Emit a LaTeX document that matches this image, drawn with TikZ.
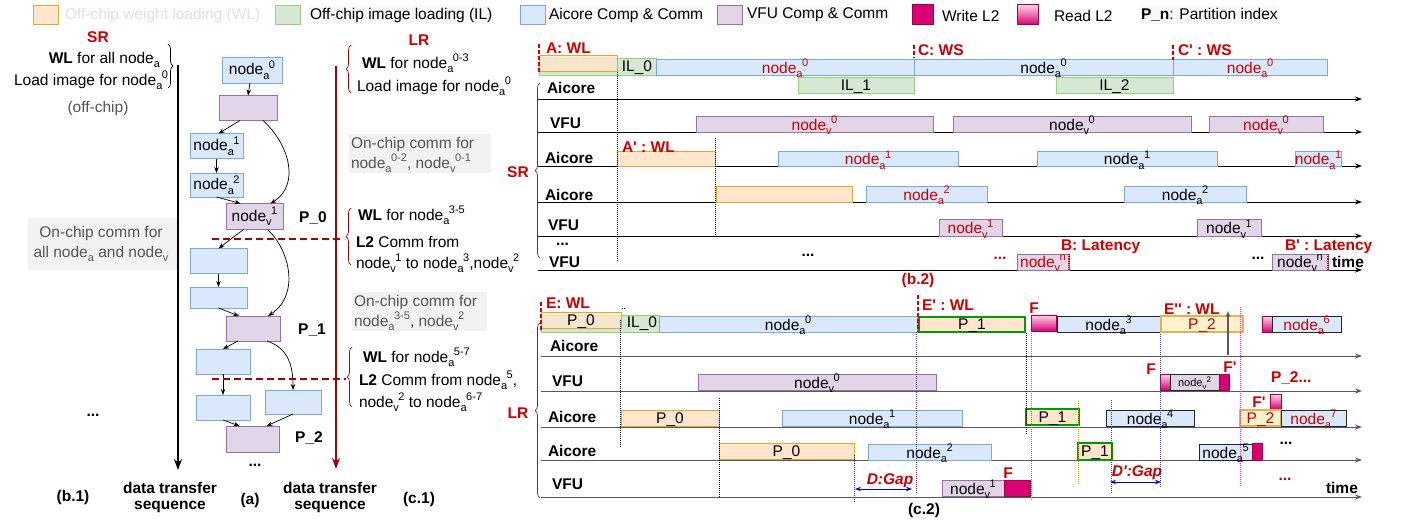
\documentclass[tikz,border=0pt]{standalone}
\usepackage{fontspec}
\setmainfont{Liberation Sans}
\usetikzlibrary{arrows.meta,decorations.pathreplacing,calc}

\definecolor{cBlueF}{HTML}{DAE8FC}
\definecolor{cBlueD}{HTML}{7EA6E0}
\definecolor{cPurF}{HTML}{E1D5E7}
\definecolor{cPurD}{HTML}{9673A6}
\definecolor{cGrnF}{HTML}{D5E8D4}
\definecolor{cGrnD}{HTML}{97D077}
\definecolor{cOrF}{HTML}{FFE6CC}
\definecolor{cOrD}{HTML}{E3A833}
\definecolor{cMag}{HTML}{D80073}
\definecolor{cMagD}{HTML}{A50040}
\definecolor{cPink}{HTML}{FFD6E8}
\definecolor{cPone}{HTML}{009900}
\definecolor{cYelF}{HTML}{FFF2CC}
\definecolor{cYelD}{HTML}{D6B656}
\definecolor{tred}{HTML}{CC0000}
\definecolor{cDR}{HTML}{A50000}
\definecolor{cGrayTx}{HTML}{555555}
\definecolor{cGrayBg}{HTML}{F2F2F2}
\definecolor{cLegBg}{HTML}{F8F8FA}
\definecolor{cWL}{HTML}{D5E8D4}
\definecolor{cGap}{HTML}{0000CC}
\definecolor{cDotPk}{HTML}{FF3399}
\definecolor{cDotOr}{HTML}{E6A100}
\definecolor{cDotBl}{HTML}{3333CC}

\newcommand\fs{\fontsize{15.5}{18}\selectfont}
\newcommand\fsmall{\fontsize{11}{13}\selectfont}
\newcommand\scs{\fontsize{11}{11}\selectfont}
\newcommand\scst{\fontsize{8}{8}\selectfont}
% subscript / superscript pieces
\newcommand\sbs[1]{\raisebox{-4.5pt}{\scs #1}}
\newcommand\sps[1]{\raisebox{6.5pt}{\scs #1}}
% node name with subscript and superscript
\newcommand\nd[2]{node\sbs{#1}\kern-0.5pt\sps{#2}}
\newcommand\nds[1]{node\sbs{#1}}
\newcommand\ndt[2]{node\raisebox{-3pt}{\scst #1}\raisebox{4pt}{\scst #2}}
\newcommand\rd[1]{\textcolor{tred}{#1}}
\newcommand\ap{\textquotesingle}
% timeline bar: style, x1, x2, y1, y2, name, text
\newcommand\tbx[7]{%
  \node[tbar,#1,minimum width={(#3-#2)*1pt},minimum height={(#5-#4)*1pt}] (#6) at ({(#2+#3)/2},{(#4+#5)/2}) {};
  \node[txt] (#6t) at ([yshift=-1.5pt]#6.center) {#7};}

\begin{document}
\begin{tikzpicture}[x=1pt,y=-1pt,
  txt/.style={inner sep=0pt,outer sep=0pt,font=\fs},
  btxt/.style={txt,font=\fs\bfseries},
  rtxt/.style={txt,font=\fs\bfseries,text=tred},
  gtxt/.style={txt,text=cGrayTx},
  legtxt/.style={txt,anchor=west,fill=cLegBg,inner xsep=1pt,inner ysep=2pt},
  legbox/.style={tbar,minimum width=25pt,minimum height=19pt},
  tbar/.style={rectangle,inner sep=0pt,outer sep=0pt,draw},
  sBlue/.style={fill=cBlueF,draw=cBlueD,line width=0.9pt},
  sPur/.style={fill=cPurF,draw=cPurD,line width=0.9pt},
  sGrn/.style={fill=cGrnF,draw=cGrnD,line width=0.9pt},
  sOr/.style={fill=cOrF,draw=cOrD,line width=0.9pt},
  sWr/.style={fill=cMag,draw=cMagD,line width=0.6pt},
  sRd/.style={top color=cPink,bottom color=cMag,draw=cMagD,line width=0.6pt},
  sBk/.style={fill=cBlueF,draw=black!85,line width=0.9pt},
  sPone/.style={fill=cOrF,draw=cPone,line width=2.2pt},
  sPtwo/.style={fill=cYelF,draw=cYelD,line width=2.2pt},
  gnode/.style={tbar,font=\fs,inner sep=0pt},
  garr/.style={-{Stealth[length=6pt,width=4.5pt]},line width=0.7pt},
  bigarr/.style={-{Stealth[length=11pt,width=8pt]},line width=1.8pt},
  axis/.style={-{Stealth[length=7pt,width=5pt]},line width=0.9pt},
  axisg/.style={axis,draw=black!65},
  redmark/.style={draw=tred,line width=2pt,dash pattern=on 4pt off 2pt},
  cutline/.style={draw=cDR,line width=1.5pt,dash pattern=on 7pt off 4pt},
  brc/.style={decorate,decoration={brace,amplitude=5pt},line width=0.7pt},
  dotk/.style={densely dotted,line width=1pt,draw=black},
  dotb/.style={densely dotted,line width=1pt,draw=cDotBl},
  dotp/.style={densely dotted,line width=1pt,draw=cDotPk},
  doto/.style={densely dotted,line width=1pt,draw=cDotOr},
  gaparr/.style={{Stealth[length=6pt,width=4.5pt]}-{Stealth[length=6pt,width=4.5pt]},line width=1pt,draw=cGap},
  graybox/.style={rectangle,fill=cGrayBg,inner sep=0pt}
]
\useasboundingbox (0,0) rectangle (1402,523);

% ---------------- legend ----------------
\node[legbox,sOr] (lg1) at (45.5,14.5) {};
\node[txt,anchor=west,text=cWL] (lg1t) at (65,15) {Off-chip weight loading (WL)};
\node[legbox,sGrn] (lg2) at (288,14.5) {};
\node[legtxt] (lg2t) at (309,15) {Off-chip image loading (IL)};
\node[legbox,sBlue] (lg3) at (533,14.5) {};
\node[legtxt] (lg3t) at (548,15) {Aicore Comp \& Comm};
\node[legbox,sPur] (lg4) at (730,14.5) {};
\node[legtxt] (lg4t) at (746,15) {VFU Comp \& Comm};
\node[legbox,sWr,minimum width=21pt,minimum height=20pt] (lg5) at (922.5,14.5) {};
\node[txt,anchor=west] (lg5t) at (942,16) {Write L2};
\node[legbox,sRd,minimum width=21pt,minimum height=20pt] (lg6) at (1027.5,14.5) {};
\node[txt,anchor=west] (lg6t) at (1054,16) {Read L2};
\node[legtxt] (lg7t) at (1140,15) {\textbf{P\_n}: Partition index};

% ---------------- (b.1) ----------------
\node[rtxt] (srt) at (98,37) {SR};
\node[txt,anchor=base east] (wlall) at (160,63) {\textbf{WL} for all \nds{a}};
\node[txt,anchor=base east] (ldall) at (168,85) {Load image for \nd{a}{0}};
\draw[brc] (168,44) -- (168,88);
\node[gtxt] (offc) at (98,108) {(off-chip)};
\node[graybox,minimum width=149pt,minimum height=52pt] (ocb) at (102.5,244) {};
\node[gtxt] (ocb1) at (101,233) {On-chip comm for};
\node[gtxt] (ocb2) at (101,254) {all \nds{a} and \nds{v}};
\coordinate (sra) at (178,65);
\coordinate (srb) at (178,470);
\draw[bigarr] (sra) -- (srb);
\node[btxt] (dots1) at (93,415) {...};
\node[btxt] (b1t) at (73,497) {(b.1)};
\node[btxt] (dts1) at (170,488) {data transfer};
\node[btxt] (dts2) at (170,507) {sequence};

% ---------------- (a) graph ----------------
\node[gnode,sBlue,minimum width=60pt,minimum height=26pt] (na0) at (252,70) {\nd{a}{0}};
\node[gnode,sPur,minimum width=58pt,minimum height=25pt] (pv0) at (248,108) {};
\node[gnode,sBlue,minimum width=53pt,minimum height=25pt] (na1) at (216.5,146) {\nd{a}{1}};
\node[gnode,sBlue,minimum width=53pt,minimum height=24pt] (na2) at (216.5,185) {\nd{a}{2}};
\node[gnode,sPur,minimum width=57pt,minimum height=26pt] (nv1) at (254.5,216.5) {\nd{v}{1}};
\node[gnode,sBlue,minimum width=57pt,minimum height=25pt] (b4) at (218.5,261) {};
\node[gnode,sBlue,minimum width=57pt,minimum height=21pt] (b5) at (218.5,297.5) {};
\node[gnode,sPur,minimum width=54pt,minimum height=25pt] (pv1) at (253,328.5) {};
\node[gnode,sBlue,minimum width=54pt,minimum height=25pt] (b6) at (223,361.5) {};
\node[gnode,sBlue,minimum width=54pt,minimum height=25pt] (b7) at (223,407.5) {};
\node[gnode,sBlue,minimum width=56pt,minimum height=24pt] (b8) at (293,402) {};
\node[gnode,sPur,minimum width=53pt,minimum height=26pt] (pv2) at (252.5,439) {};
\node[btxt] (p0l) at (313,218) {P\_0};
\node[btxt] (p1l) at (312,330) {P\_1};
\node[btxt] (p2l) at (309,438) {P\_2};
\node[btxt] (dots2) at (255,465) {...};
\node[btxt] (at) at (250,500) {(a)};

\draw[garr] ([xshift=-2pt]na0.south) -- (pv0.north);
\draw[garr] ([xshift=-8pt]pv0.south) -- ([xshift=2pt]na1.north);
\draw[garr] ([xshift=15pt]pv0.south) .. controls (290,145) and (300,185) .. ([xshift=16pt]nv1.north);
\draw[garr] (na1.south) -- (na2.north);
\draw[garr] (na2.south) -- ([xshift=-14pt]nv1.north);
\draw[garr] ([xshift=-11pt]nv1.south) -- (b4.north);
\draw[garr] ([xshift=13pt]nv1.south) .. controls (290,250) and (300,295) .. ([xshift=15pt]pv1.north);
\draw[garr] (b4.south) -- (b5.north);
\draw[garr] (b5.south) -- ([xshift=-14pt]pv1.north);
\draw[garr] ([xshift=-15pt]pv1.south) -- (b6.north);
\draw[garr] ([xshift=14pt]pv1.south) .. controls (288,348) and (293,365) .. (b8.north);
\draw[garr] (b6.south) -- (b7.north);
\draw[garr] (b7.south) -- ([xshift=-13pt]pv2.north);
\draw[garr] (b8.south) -- ([xshift=14pt]pv2.north);

\coordinate (cut1a) at (212,239);
\coordinate (cut1b) at (344,239);
\coordinate (cut2a) at (212,379);
\coordinate (cut2b) at (346,379);
\draw[cutline] (cut1a) -- (cut1b);
\draw[cutline] (cut2a) -- (cut2b);

% ---------------- (c.1) ----------------
\node[rtxt] (lrt) at (419,40) {LR};
\coordinate (lra) at (336,66);
\coordinate (lrb) at (336,469);
\draw[bigarr,draw=cDR] (lra) -- (lrb);
\draw[brc,draw=cDR] (351,93) -- (351,45);
\draw[brc,draw=cDR] (351,265) -- (351,208);
\draw[brc,draw=cDR] (352,407) -- (352,347);
\node[txt,anchor=base west] (c1a) at (362,68) {\textbf{WL} for \nd{a}{0-3}};
\node[txt,anchor=base west] (c1b) at (357,91) {Load image for \nd{a}{0}};
\node[graybox,anchor=north west,minimum width=142pt,minimum height=39pt] (oc1) at (349,134) {};
\node[gtxt,anchor=base west] (oc1a) at (351,148) {On-chip comm for};
\node[gtxt,anchor=base west] (oc1b) at (351,168) {\nd{a}{0-2}, \nd{v}{0-1}};
\node[txt,anchor=base west] (c1c) at (358,220) {\textbf{WL} for \nd{a}{3-5}};
\node[txt,anchor=base west] (c1d) at (356,247) {\textbf{L2} Comm from};
\node[txt,anchor=base west] (c1e) at (356,268) {\nd{v}{1} to \nd{a}{3},\nd{v}{2}};
\node[graybox,anchor=north west,minimum width=135pt,minimum height=39pt] (oc2) at (352,292) {};
\node[gtxt,anchor=base west] (oc2a) at (354,306) {On-chip comm for};
\node[gtxt,anchor=base west] (oc2b) at (354,326) {\nd{a}{3-5}, \nd{v}{2}};
\node[txt,anchor=base west] (c1f) at (363,362) {\textbf{WL} for \nd{a}{5-7}};
\node[txt,anchor=base west] (c1g) at (359,385) {\textbf{L2} Comm from \nd{a}{5},};
\node[txt,anchor=base west] (c1h) at (359,407) {\nd{v}{2} to \nd{a}{6-7}};
\node[btxt] (dts3) at (330,488) {data transfer};
\node[btxt] (dts4) at (330,507) {sequence};
\node[btxt] (c1t) at (419,499) {(c.1)};

% ---------------- (b.2) ----------------
\node[rtxt] (srt2) at (518,172) {SR};
\draw[brc,draw=black!75] (540,258) -- (540,83);
\node[btxt,anchor=west] (r1) at (547,88) {Aicore};
\node[btxt,anchor=west] (r2) at (550,123) {VFU};
\node[btxt,anchor=west] (r3) at (545,158) {Aicore};
\node[btxt,anchor=west] (r4) at (545,195) {Aicore};
\node[btxt,anchor=west] (r5) at (548,225) {VFU};
\node[btxt,anchor=west] (r6) at (556,244) {...};
\node[btxt,anchor=west] (r7) at (549,262) {VFU};
\foreach \yy in {99,132,166,202,236,270} \draw[axis] (538,\yy) -- (1362,\yy);

\tbx{sGrn}{539}{656}{58}{75}{bil0}{}
\tbx{sOr,fill opacity=0.8}{539}{617}{55}{71}{bwl0}{}
\node[txt] (bil0l) at (637,68) {IL\_0};
\tbx{sBlue}{656}{914}{59}{75}{b0a}{\rd{\nd{a}{0}}}
\tbx{sBlue}{914}{1173}{59}{75}{b0b}{\nd{a}{0}}
\tbx{sBlue}{1173}{1327}{59}{75}{b0c}{\rd{\nd{a}{0}}}
\tbx{sGrn}{798}{914}{77}{93}{bil1}{IL\_1}
\tbx{sGrn}{1056}{1173}{77}{93}{bil2}{IL\_2}
\tbx{sPur}{696}{933}{116}{132}{b1a}{\rd{\nd{v}{0}}}
\tbx{sPur}{953}{1191}{116}{132}{b1b}{\nd{v}{0}}
\tbx{sPur}{1209}{1323}{116}{132}{b1c}{\rd{\nd{v}{0}}}
\tbx{sOr}{617}{715}{151}{166}{b2w}{}
\tbx{sBlue}{778}{958}{151}{166}{b2a}{\rd{\nd{a}{1}}}
\tbx{sBlue}{1037}{1217}{151}{166}{b2b}{\nd{a}{1}}
\tbx{sBlue}{1295}{1341}{151}{166}{b2c}{\rd{\nd{a}{1}}}
\tbx{sOr}{716}{852}{186}{202}{b3w}{}
\tbx{sBlue}{866}{987}{186}{202}{b3a}{\rd{\nd{a}{2}}}
\tbx{sBlue}{1124}{1246}{186}{202}{b3b}{\nd{a}{2}}
\tbx{sPur}{939}{1002}{219}{236}{b4a}{\rd{\nd{v}{1}}}
\tbx{sPur}{1197}{1261}{219}{236}{b4b}{\nd{v}{1}}
\tbx{sPur}{1017}{1069}{254}{270}{b5a}{\rd{\nd{v}{n}}}
\tbx{sPur}{1272}{1328}{254}{270}{b5b}{\nd{v}{n}}
\draw[densely dotted,line width=1.2pt,draw=tred] (b5a.north east) -- (b5a.south east);
\draw[densely dotted,line width=1.2pt,draw=tred] (b5b.north east) -- (b5b.south east);

\draw[redmark] (bwl0.north west) ++(0,-11) -- ++(0,28);
\draw[redmark] (b0b.north west) ++(0,-14) -- ++(0,13);
\draw[redmark] (b0c.north west) ++(0,-14) -- ++(0,15);
\node[rtxt,anchor=west] (lA) at (546,48) {A: WL};
\node[rtxt,anchor=west] (lC) at (918,50) {C: WS};
\node[rtxt,anchor=west] (lCp) at (1178,50) {C\ap{} : WS};
\node[rtxt,anchor=west] (lAp) at (622,147) {A\ap{} : WL};
\node[rtxt,anchor=west] (lB) at (1061,247) {B: Latency};
\node[rtxt,anchor=west] (lBp) at (1285,247) {B\ap{} : Latency};
\node[btxt] (bd1) at (808,255) {...};
\node[rtxt] (bd2) at (1000,258) {...};
\node[btxt] (bd3) at (1258,258) {...};
\node[btxt,anchor=west] (time1) at (1332,262) {time};
\node[rtxt] (b2t) at (918,280) {(b.2)};

\coordinate (dk1a) at (617,72);
\coordinate (dk1b) at (617,262);
\coordinate (dk2a) at (715,138);
\coordinate (dk2b) at (715,238);
\draw[dotk] (dk1a) -- (dk1b);
\draw[dotk] (dk2a) -- (dk2b);

% ---------------- (c.2) ----------------
\node[rtxt] (lrt2) at (518,413) {LR};
\draw[brc,draw=black!75] (540,498) -- (540,323);
\node[btxt,anchor=west] (s1) at (550,346) {Aicore};
\node[btxt,anchor=west] (s2) at (552,381) {VFU};
\node[btxt,anchor=west] (s3) at (548,417) {Aicore};
\node[btxt,anchor=west] (s4) at (548,451) {Aicore};
\node[btxt,anchor=west] (s5) at (552,484) {VFU};
\foreach \yy in {356,391,427,460,497} \draw[axisg] (541,\yy) -- (1362,\yy);

\tbx{sGrn}{541}{659}{315}{332}{cil0}{}
\tbx{sOr,fill opacity=0.8}{541}{621}{312}{328}{cp0}{P\_0}
\node[txt] (cil0l) at (642,324) {IL\_0};
\tbx{sBlue}{659}{917}{316}{332}{c0a}{\nd{a}{0}}
\tbx{sPone}{919}{1025}{317}{332}{c0p1}{P\_1}
\tbx{sRd}{1031}{1056}{315}{331}{c0r}{}
\tbx{sBk}{1057}{1160}{316}{332}{c0a3}{\nd{a}{3}}
\tbx{sPtwo}{1161}{1243}{316}{332}{c0p2}{\rd{P\_2}}
\tbx{sRd}{1262}{1272}{316}{332}{c0r2}{}
\tbx{sBk}{1272}{1341}{316}{332}{c0a6}{\rd{\nd{a}{6}}}
\tbx{sPur}{698}{936}{374}{390}{c1a}{\nd{v}{0}}
\tbx{sRd}{1160}{1170}{374}{390}{c1r}{}
\tbx{sPur,draw=black!85}{1170}{1219}{374}{390}{c1b}{\fsmall\ndt{v}{2}}
\tbx{sWr}{1219}{1229}{374}{390}{c1w}{}
\tbx{sOr}{621}{719}{410}{426}{c2p}{P\_0}
\tbx{sBlue}{782}{962}{410}{426}{c2a}{\nd{a}{1}}
\tbx{sPone}{1026}{1079}{409}{425}{c2p1}{P\_1}
\tbx{sBk}{1106}{1194}{410}{426}{c2a4}{\nd{a}{4}}
\tbx{sRd}{1270}{1281}{394}{409}{c2r}{}
\tbx{sPtwo}{1240}{1281}{410}{426}{c2p2}{\rd{P\_2}}
\tbx{sBk}{1281}{1346}{410}{426}{c2a7}{\rd{\nd{a}{7}}}
\tbx{sOr}{719}{854}{443}{459}{c3p}{P\_0}
\tbx{sBlue}{868}{991}{444}{460}{c3a}{\nd{a}{2}}
\tbx{sPone}{1078}{1112}{443}{460}{c3p1}{P\_1}
\tbx{sBk}{1199}{1252}{444}{460}{c3a5}{\nd{a}{5}}
\tbx{sWr}{1252}{1262}{443}{460}{c3w}{}
\tbx{sPur}{942}{1004}{480}{496}{c4a}{\nd{v}{1}}
\tbx{sWr}{1004}{1030}{480}{496}{c4w}{}

\draw[redmark] (cp0.north west) ++(0,-10) -- ++(0,28);
\draw[redmark] (c0p1.north west) ++(-1,-22) -- ++(0,37);
\node[rtxt,anchor=west] (lE) at (546,303) {E: WL};
\node[rtxt,anchor=west] (lEp) at (922,305) {E\ap{} : WL};
\node[rtxt,anchor=west] (lEpp) at (1164,309) {E\ap\ap{} : WL};
\node[rtxt] (lF1) at (1034,308) {F};
\node[rtxt] (lF2) at (1151,369) {F};
\node[rtxt] (lF3) at (1230,367) {F\ap};
\node[rtxt,anchor=west] (lP2) at (1271,378) {P\_2...};
\node[rtxt] (lF4) at (1259,402) {F\ap};
\node[rtxt] (lF5) at (1008,473) {F};
\node[btxt] (cd1) at (1286,443) {...};
\node[rtxt] (cd2) at (1285,479) {...};
\node[btxt,anchor=west] (time2) at (1326,488) {time};
\node[btxt] (c2t) at (924,510) {(c.2)};

\node[rtxt,font=\fs\bfseries\itshape] (lD) at (890,481) {D:Gap};
\node[rtxt,font=\fs\bfseries\itshape] (lDp) at (1137,473) {D\ap:Gap};
\coordinate (gD1) at (855,489);
\coordinate (gD2) at (912,489);
\coordinate (gE1) at (1110,482);
\coordinate (gE2) at (1161,482);
\draw[gaparr] (gD1) -- (gD2);
\draw[gaparr] (gE1) -- (gE2);

\coordinate (upa) at (1228,355);
\coordinate (upb) at (1228,311);
\draw[-{Stealth[length=6pt,width=4.5pt]},line width=1.2pt,draw=black!65] (upa) -- (upb);

% guide lines in (c.2)
\coordinate (q1a) at (620,320); \coordinate (q1b) at (620,448);
\coordinate (q2a) at (719,398); \coordinate (q2b) at (719,497);
\coordinate (q3a) at (854,455); \coordinate (q3b) at (854,503);
\coordinate (q4a) at (916,332); \coordinate (q4b) at (916,494);
\coordinate (q5a) at (1026,333); \coordinate (q5b) at (1026,435);
\coordinate (q6a) at (1031,333); \coordinate (q6b) at (1031,500);
\coordinate (q7a) at (1078,401); \coordinate (q7b) at (1078,485);
\coordinate (q8a) at (1111,400); \coordinate (q8b) at (1111,494);
\coordinate (q9a) at (1160,334); \coordinate (q9b) at (1160,487);
\coordinate (q10a) at (1240,307); \coordinate (q10b) at (1240,487);
\draw[dotk] (q1a) -- (q1b);
\draw[dotk] (622,308) -- (626,308);
\draw[dotk] (q2a) -- (q2b);
\draw[dotb] (q3a) -- (q3b);
\draw[dotb] (q4a) -- (q4b);
\draw[dotk] (q5a) -- (q5b);
\draw[dotp] (q6a) -- (q6b);
\draw[doto] (q7a) -- (q7b);
\draw[dotb] (q8a) -- (q8b);
\draw[dotb] (q9a) -- (q9b);
\draw[dotp] (q10a) -- (q10b);
\end{tikzpicture}
\end{document}
